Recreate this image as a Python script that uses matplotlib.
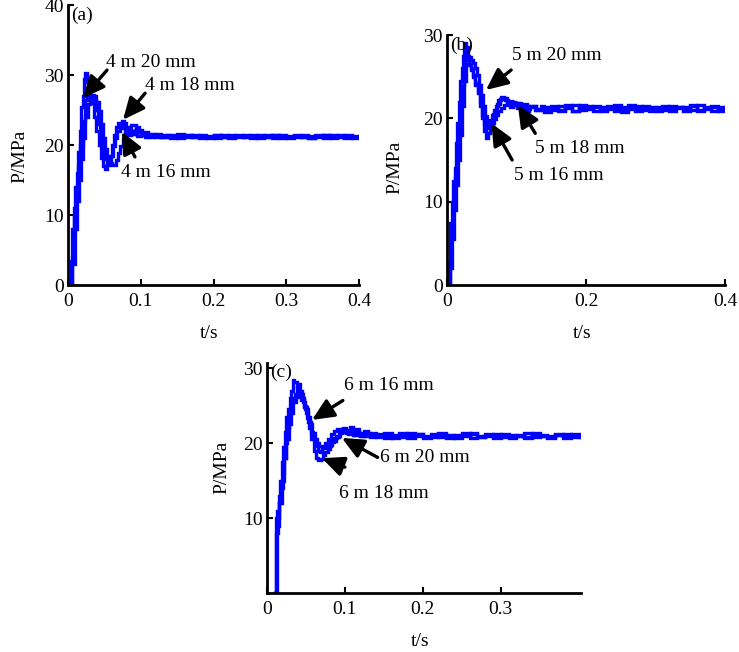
import matplotlib
matplotlib.use("Agg")
import matplotlib.pyplot as plt

plt.rcParams['font.family'] = ['Liberation Serif', 'DejaVu Serif']
plt.rcParams['font.size'] = 14

BLUE = '#0000ff'

# settled part of every record, sampled every 10 ms
tail_t = [0.14, 0.15, 0.16, 0.17, 0.18, 0.19, 0.20, 0.21, 0.22, 0.23, 0.24, 0.25, 0.26, 0.27,
          0.28, 0.29, 0.30, 0.31, 0.32, 0.33, 0.34, 0.35, 0.36, 0.37, 0.38, 0.39, 0.40]

# ---- panel (a): 4 m ----
a20_t = [0.000, 0.004, 0.006, 0.008, 0.010, 0.012, 0.014, 0.016, 0.018, 0.020, 0.022, 0.024,
         0.026, 0.028, 0.030, 0.033, 0.036, 0.039, 0.042, 0.045, 0.048, 0.051, 0.054, 0.057,
         0.060, 0.063, 0.066, 0.069, 0.072, 0.075, 0.078, 0.082, 0.086, 0.090, 0.095, 0.100,
         0.106, 0.112, 0.120, 0.130]
a20_p = [0, 3.5, 8, 11, 14, 16, 19, 22, 25.5, 27, 29.5, 30.3,
         29, 27.5, 26.8, 26, 24, 22, 20, 18.2, 17, 16.6, 17.2, 18.5,
         20, 21.5, 22.6, 23.2, 23, 22.4, 21.8, 21.4, 21.8, 21.6, 21.3, 21.5,
         21.2, 21.6, 21.1, 21.4]
a20_tail = [21.5, 21.0, 21.4, 21.1, 21.5, 21.2, 21.0, 21.4, 21.1, 21.5, 21.2, 21.0, 21.4, 21.1,
            21.5, 21.0, 21.3, 21.1, 21.4, 21.0, 21.3, 21.5, 21.1, 21.4, 21.0, 21.3, 21.2]
a18_t = [0.000, 0.005, 0.008, 0.011, 0.014, 0.017, 0.020, 0.023, 0.026, 0.029, 0.032, 0.035,
         0.038, 0.041, 0.044, 0.047, 0.050, 0.053, 0.056, 0.059, 0.062, 0.065, 0.068, 0.071,
         0.074, 0.077, 0.080, 0.084, 0.088, 0.092, 0.096, 0.100, 0.105, 0.110, 0.118, 0.126]
a18_p = [0, 4, 10, 13, 17, 20, 23.5, 26.5, 27.5, 27.2, 27, 26.5,
         25, 23, 21, 19.2, 18, 17.3, 17.5, 18.5, 19.8, 21, 22, 22.8,
         23.4, 23.2, 22.6, 22, 21.6, 22.2, 21.8, 21.4, 21.7, 21.2, 21.5, 21.1]
a18_tail = [21.2, 21.6, 21.1, 21.4, 21.0, 21.3, 21.5, 21.1, 21.4, 21.2, 21.5, 21.1, 21.3, 21.5,
            21.0, 21.4, 21.2, 21.5, 21.1, 21.3, 21.5, 21.0, 21.4, 21.2, 21.5, 21.1, 21.3]
a16_t = [0.000, 0.006, 0.009, 0.012, 0.015, 0.018, 0.021, 0.024, 0.027, 0.030, 0.033, 0.036,
         0.039, 0.042, 0.045, 0.048, 0.051, 0.054, 0.057, 0.060, 0.063, 0.066, 0.069, 0.072,
         0.075, 0.078, 0.082, 0.086, 0.090, 0.094, 0.098, 0.102, 0.106, 0.110, 0.115, 0.120,
         0.128, 0.136]
a16_p = [0, 3, 8, 12, 15, 18, 21, 24, 25.8, 26.8, 27.2, 27,
         26.2, 24.8, 23, 21, 19.5, 18.3, 17.5, 17.1, 17.2, 17.8, 18.8, 19.8,
         20.8, 21.6, 22.4, 22.8, 22.9, 22.6, 22.1, 21.6, 21.9, 21.5, 21.3, 21.6,
         21.2, 21.4]
a16_tail = [21.0, 21.3, 21.5, 21.1, 21.3, 21.0, 21.4, 21.2, 21.0, 21.3, 21.1, 21.4, 21.0, 21.2,
            21.4, 21.1, 21.0, 21.3, 21.2, 21.0, 21.2, 21.4, 21.0, 21.2, 21.3, 21.0, 21.2]

# ---- panel (b): 5 m ----
b20_t = [0.000, 0.003, 0.005, 0.007, 0.009, 0.011, 0.013, 0.015, 0.017, 0.019, 0.021, 0.023,
         0.025, 0.027, 0.029, 0.032, 0.035, 0.038, 0.041, 0.044, 0.047, 0.050, 0.053, 0.056,
         0.059, 0.062, 0.066, 0.070, 0.074, 0.078, 0.082, 0.086, 0.090, 0.095, 0.100, 0.105,
         0.110, 0.118, 0.126, 0.135]
b20_p = [0, 2.5, 7.5, 10, 12.5, 14, 17, 19.5, 22, 24.5, 26, 27.5,
         29, 28.2, 27, 26.4, 26, 25, 24, 23, 21.5, 20, 18.5, 17.6,
         18.2, 19.2, 20.5, 21.5, 22.2, 22.6, 22.4, 21.8, 21.4, 21.8, 21.2, 21.5,
         20.9, 21.4, 21.0, 21.5]
b20_tail = [20.8, 21.4, 21.0, 21.6, 20.9, 21.3, 21.5, 20.9, 21.4, 21.1, 21.6, 20.8, 21.3, 21.5,
            21.0, 21.4, 20.9, 21.5, 21.1, 21.4, 20.9, 21.6, 21.0, 21.3, 21.5, 20.9, 21.2]
b18_t = [0.000, 0.004, 0.006, 0.008, 0.010, 0.012, 0.014, 0.016, 0.018, 0.020, 0.022, 0.024,
         0.026, 0.028, 0.030, 0.032, 0.035, 0.038, 0.041, 0.044, 0.047, 0.050, 0.053, 0.056,
         0.059, 0.062, 0.065, 0.068, 0.072, 0.076, 0.080, 0.084, 0.088, 0.092, 0.096, 0.100,
         0.104, 0.108, 0.114, 0.120, 0.128]
b18_p = [0, 3, 6, 9, 11, 13, 16, 18, 20.5, 22, 24, 26,
         27, 28.5, 27.5, 26.5, 25.8, 25.2, 24.2, 23.3, 22, 20.4, 19.3, 18.8,
         19.2, 19.8, 20.4, 21, 21.7, 22.3, 22.5, 22.2, 21.8, 22.0, 21.6, 21.8,
         21.3, 21.6, 21.1, 21.5, 21.0]
b18_tail = [21.3, 21.0, 21.5, 21.2, 20.9, 21.6, 21.1, 21.4, 20.9, 21.5, 21.2, 21.0, 21.6, 21.1,
            21.4, 20.9, 21.3, 21.0, 21.5, 21.2, 21.4, 21.0, 21.6, 21.1, 20.9, 21.4, 21.1]
b16_t = [0.000, 0.004, 0.007, 0.010, 0.013, 0.016, 0.019, 0.022, 0.025, 0.028, 0.031, 0.034,
         0.037, 0.040, 0.043, 0.046, 0.049, 0.052, 0.055, 0.058, 0.061, 0.064, 0.067, 0.070,
         0.074, 0.078, 0.082, 0.086, 0.090, 0.094, 0.098, 0.102, 0.106, 0.110, 0.115, 0.120,
         0.128, 0.136]
b16_p = [0, 2, 5.5, 9, 12, 15, 18, 21.5, 24.5, 26.5, 27.3, 27,
         26.6, 26, 25.2, 24, 22.8, 21.5, 20.3, 19.6, 19.4, 19.5, 19.9, 20.4,
         20.9, 21.2, 21.6, 21.9, 22.1, 22.0, 21.7, 21.9, 21.5, 21.7, 21.3, 21.5,
         21.1, 21.4]
b16_tail = [21.1, 21.5, 20.9, 21.3, 21.6, 21.0, 21.2, 21.5, 21.0, 21.3, 20.9, 21.4, 21.1, 20.9,
            21.5, 21.2, 21.0, 21.4, 20.9, 21.3, 21.1, 21.5, 20.9, 21.2, 21.4, 21.0, 21.3]

# ---- panel (c): 6 m ----
c16_t = [0.010, 0.011, 0.013, 0.015, 0.017, 0.019, 0.021, 0.023, 0.025, 0.027, 0.029, 0.031,
         0.033, 0.035, 0.038, 0.041, 0.044, 0.047, 0.050, 0.053, 0.056, 0.059, 0.062, 0.065,
         0.068, 0.071, 0.074, 0.078, 0.082, 0.086, 0.090, 0.094, 0.098, 0.102, 0.106, 0.110,
         0.115, 0.120, 0.126, 0.132]
c16_p = [0, 10, 11, 13, 15, 17.5, 19.5, 21.5, 23.5, 24.5, 26, 27,
         28.4, 28.2, 27.5, 26.5, 25.8, 25, 24, 22.8, 21.5, 20.5, 19.6, 19.0,
         18.8, 19.3, 20.0, 20.6, 21.2, 21.6, 21.9, 21.5, 21.8, 21.3, 21.6, 21.1,
         21.4, 20.9, 21.3, 20.8]
c16_tail = [21.2, 20.7, 21.1, 20.8, 21.3, 20.9, 20.7, 21.2, 20.8, 21.1, 20.9, 21.3, 20.7, 21.0,
            21.2, 20.8, 21.1, 20.7, 21.0, 21.3, 20.8, 21.1, 20.9, 21.2, 20.7, 21.0, 20.9]
c18_t = [0.010, 0.012, 0.014, 0.016, 0.018, 0.020, 0.022, 0.024, 0.026, 0.028, 0.030, 0.032,
         0.034, 0.036, 0.038, 0.040, 0.042, 0.045, 0.048, 0.051, 0.054, 0.057, 0.060, 0.063,
         0.066, 0.069, 0.072, 0.075, 0.078, 0.081, 0.084, 0.088, 0.092, 0.096, 0.100, 0.104,
         0.108, 0.112, 0.116, 0.122, 0.128]
c18_p = [0, 8, 10, 12, 14, 16, 18, 20, 22, 23.5, 24.5, 25.5,
         26, 26.5, 27.5, 27.9, 27, 26, 24.8, 23.3, 22, 20.5, 19, 18,
         17.7, 17.9, 18.4, 18.8, 19.2, 19.8, 20.3, 20.8, 21.4, 21.9, 21.6, 21.2,
         21.5, 21.1, 21.4, 20.9, 21.3]
c18_tail = [20.8, 21.1, 20.7, 21.3, 20.9, 21.2, 20.8, 21.0, 21.3, 20.7, 21.1, 20.9, 21.2, 20.8,
            21.1, 20.7, 21.2, 20.9, 21.1, 20.8, 21.3, 20.9, 20.7, 21.1, 20.9, 21.2, 20.8]
c20_t = [0.010, 0.013, 0.016, 0.019, 0.022, 0.025, 0.028, 0.031, 0.034, 0.037, 0.040, 0.043,
         0.046, 0.049, 0.052, 0.055, 0.058, 0.061, 0.064, 0.067, 0.070, 0.073, 0.076, 0.079,
         0.082, 0.086, 0.090, 0.094, 0.098, 0.102, 0.106, 0.110, 0.114, 0.118, 0.124, 0.130]
c20_p = [0, 9, 12, 15, 18, 20.5, 22.5, 24, 25.5, 26.2, 26.8, 26.5,
         25.5, 24.5, 23.5, 22.5, 21.4, 20.6, 20.0, 19.6, 19.4, 19.5, 19.8, 19.6,
         20.2, 20.7, 21.0, 21.5, 22.0, 21.8, 22.2, 21.6, 21.9, 21.4, 21.6, 21.1]
c20_tail = [21.0, 21.3, 20.8, 21.1, 20.7, 21.2, 21.0, 20.8, 21.2, 20.9, 20.7, 21.1, 21.3, 20.8,
            21.0, 21.2, 20.8, 21.1, 20.9, 20.7, 21.2, 21.0, 20.8, 21.1, 21.2, 20.8, 21.0]

# annotations: label, text position, arrow tail, arrow tip (data coords)
notes_a = [("4 m 20 mm", (0.052, 31.1), (0.0536, 30.7), (0.0206, 26.7)),
           ("4 m 18 mm", (0.106, 27.9), (0.106, 27.4), (0.0756, 23.6)),
           ("4 m 16 mm", (0.073, 15.4), (0.092, 18.3), (0.074, 21.9))]
notes_b = [("5 m 20 mm", (0.0937, 27.0), (0.0923, 25.8), (0.056, 23.4)),
           ("5 m 18 mm", (0.126, 15.8), (0.127, 18.2), (0.102, 21.6)),
           ("5 m 16 mm", (0.0965, 12.6), (0.0937, 15.0), (0.064, 19.4))]
notes_c = [("6 m 16 mm", (0.0987, 27.1), (0.0974, 25.7), (0.0577, 23.1)),
           ("6 m 20 mm", (0.145, 17.5), (0.142, 18.1), (0.096, 20.7)),
           ("6 m 18 mm", (0.092, 12.7), (0.100, 16.8), (0.0705, 18.0))]

W, H = 739, 652
fig = plt.figure(figsize=(W / 100, H / 100), dpi=100)


def px_axes(x0, y0, x1, y1):
    # pixel box (top-left origin) -> axes
    return fig.add_axes([x0 / W, 1 - y1 / H, (x1 - x0) / W, (y1 - y0) / H])


def style(ax, xlim, ylim, xticks, yticks, xlabels, tag):
    ax.set_xlim(*xlim)
    ax.set_ylim(*ylim)
    ax.set_xticks(xticks)
    ax.set_xticklabels(xlabels)
    ax.set_yticks(yticks)
    for s in ['top', 'right']:
        ax.spines[s].set_visible(False)
    for s in ['left', 'bottom']:
        ax.spines[s].set_linewidth(2)
    ax.tick_params(direction='in', length=4, width=1.5, labelsize=14)
    ax.tick_params(axis='x', pad=6)
    ax.tick_params(axis='y', pad=3)
    ax.text(0.01, 0.995, tag, transform=ax.transAxes, ha='left', va='top', fontsize=14)


def draw(ax, curves, notes):
    for t, p, tail in curves:
        ax.plot(t + tail_t, p + tail, color=BLUE, lw=2.4, drawstyle='steps-post',
                solid_joinstyle='miter')
    for label, txt, tail, tip in notes:
        ax.annotate('', xy=tip, xytext=tail,
                    arrowprops=dict(arrowstyle='-|>,head_length=1.1,head_width=0.5',
                                    mutation_scale=12, lw=2.4, color='k',
                                    shrinkA=0, shrinkB=0))
        ax.text(txt[0], txt[1], label, ha='left', va='baseline', fontsize=14)


ax_a = px_axes(68, 5, 359, 285)
draw(ax_a, [(a20_t, a20_p, a20_tail), (a18_t, a18_p, a18_tail), (a16_t, a16_p, a16_tail)], notes_a)
style(ax_a, (0, 0.4), (0, 40), [0, 0.1, 0.2, 0.3, 0.4], [0, 10, 20, 30, 40],
      ['0', '0.1', '0.2', '0.3', '0.4'], '(a)')

ax_b = px_axes(447, 35, 725, 285)
draw(ax_b, [(b20_t, b20_p, b20_tail), (b18_t, b18_p, b18_tail), (b16_t, b16_p, b16_tail)], notes_b)
style(ax_b, (0, 0.4), (0, 30), [0, 0.2, 0.4], [0, 10, 20, 30],
      ['0', '0.2', '0.4'], '(b)')

ax_c = px_axes(267, 363, 581, 593)
draw(ax_c, [(c16_t, c16_p, c16_tail), (c18_t, c18_p, c18_tail), (c20_t, c20_p, c20_tail)], notes_c)
style(ax_c, (0, 0.403), (0, 30.7), [0, 0.1, 0.2, 0.3], [10, 20, 30],
      ['0', '0.1', '0.2', '0.3'], '(c)')

# axis titles
fig.text(20 / W, 1 - 156 / H, 'P/MPa', rotation=90, ha='center', va='center', fontsize=14)
fig.text(395 / W, 1 - 167 / H, 'P/MPa', rotation=90, ha='center', va='center', fontsize=14)
fig.text(222 / W, 1 - 467 / H, 'P/MPa', rotation=90, ha='center', va='center', fontsize=14)
fig.text(209 / W, 1 - 333 / H, 't/s', ha='center', va='center', fontsize=14)
fig.text(582 / W, 1 - 333 / H, 't/s', ha='center', va='center', fontsize=14)
fig.text(420 / W, 1 - 641 / H, 't/s', ha='center', va='center', fontsize=14)

fig.savefig('out.png', dpi=100)
